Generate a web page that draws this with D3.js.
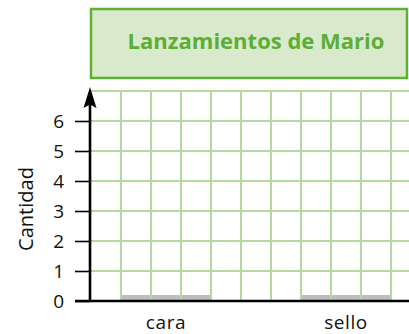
<!DOCTYPE html>
<html>
<head>
<meta charset="utf-8">
<script src="https://cdn.jsdelivr.net/npm/d3@7"></script>
<style>
  html, body { margin: 0; padding: 0; background: #fff; }
  svg { display: block; }
  text { font-family: "Open Sans", "DejaVu Sans", sans-serif; }
</style>
</head>
<body>
<svg id="chart" width="409" height="334"></svg>
<script>
// Chart data
const title = "Lanzamientos de Mario";
const categories = ["cara", "sello"];
const counts = [0.2, 0.2];
const yTicks = [0, 1, 2, 3, 4, 5, 6];
const yLabel = "Cantidad";

const svg = d3.select("#chart");
const W = 409, H = 334;
const font = "\"Open Sans\", \"DejaVu Sans\", sans-serif";

// Scales: one grid cell = one unit of quantity
const y = d3.scaleLinear().domain([0, 7]).range([301, 91]);
const x = d3.scaleBand().domain(categories)
  .range([91, 421]).paddingInner(0.5).paddingOuter(1 / 6);
const cell = d3.scaleLinear().domain([0, 11]).range([91, 421]);

const gridColor = "#b3d99c";

// Title box
const titleG = svg.append("g");
titleG.append("rect")
  .attr("x", 91).attr("y", 9).attr("width", 316).attr("height", 69)
  .attr("fill", "#d8eacb").attr("stroke", "#5cb033").attr("stroke-width", 2.5);
titleG.append("text")
  .attr("x", 256).attr("y", 49)
  .attr("text-anchor", "middle")
  .attr("font-size", 22).attr("font-weight", "bold")
  .attr("font-family", font)
  .attr("fill", "#5cae35")
  .text(title);

// Bars (drawn below the grid)
svg.append("g").selectAll("rect")
  .data(categories)
  .join("rect")
  .attr("x", d => x(d))
  .attr("width", x.bandwidth())
  .attr("y", (d, i) => y(counts[i]))
  .attr("height", (d, i) => y(0) - y(counts[i]))
  .attr("fill", "#bebebe");

// Grid
const grid = svg.append("g").attr("stroke", gridColor).attr("stroke-width", 2);
grid.selectAll("line.h")
  .data(d3.range(1, 8))
  .join("line").attr("class", "h")
  .attr("x1", 91).attr("x2", W + 20)
  .attr("y1", d => y(d)).attr("y2", d => y(d));
grid.selectAll("line.v")
  .data(d3.range(1, 12))
  .join("line").attr("class", "v")
  .attr("x1", d => cell(d)).attr("x2", d => cell(d))
  .attr("y1", y(7)).attr("y2", y(0));

// Y axis
const yAxis = svg.append("g")
  .attr("transform", "translate(90,0)")
  .call(d3.axisLeft(y).tickValues(yTicks).tickFormat(d3.format("d"))
    .tickSize(15).tickPadding(11));
yAxis.select(".domain").remove();
yAxis.selectAll(".tick line").attr("stroke", "#000").attr("stroke-width", 1.6);
yAxis.selectAll(".tick text")
  .attr("font-size", 19).attr("fill", "#111")
  .attr("font-family", font);

// Vertical axis line with an arrowhead at the top
svg.append("line")
  .attr("x1", 90).attr("x2", 90)
  .attr("y1", y(0) + 1).attr("y2", 100)
  .attr("stroke", "#000").attr("stroke-width", 2.6);
svg.append("path")
  .attr("d", "M90,87 L96.5,108 L90,104.5 L83.5,108 Z")
  .attr("fill", "#000");

// X axis
const xAxis = svg.append("g")
  .attr("transform", `translate(0,${y(0)})`)
  .call(d3.axisBottom(x).tickSize(0).tickPadding(15));
xAxis.select(".domain").remove();
xAxis.selectAll(".tick text")
  .attr("font-size", 19).attr("fill", "#111")
  .attr("letter-spacing", "0.6px")
  .attr("font-family", font);

svg.append("line")
  .attr("x1", 75).attr("x2", W)
  .attr("y1", y(0)).attr("y2", y(0))
  .attr("stroke", "#000").attr("stroke-width", 2.6);

// Y axis label
svg.append("text")
  .attr("transform", "translate(33,209) rotate(-90)")
  .attr("text-anchor", "middle")
  .attr("font-size", 20).attr("fill", "#111")
  .attr("font-family", font)
  .text(yLabel);
</script>
</body>
</html>
